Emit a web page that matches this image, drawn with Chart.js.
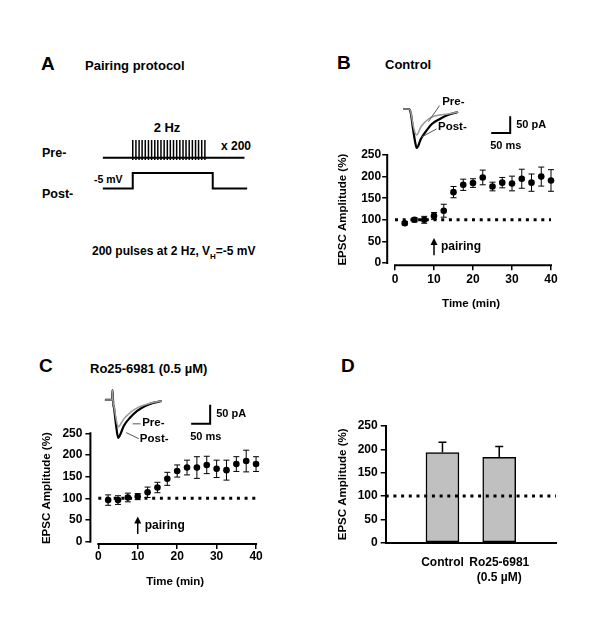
<!DOCTYPE html>
<html lang="en">
<head>
<meta charset="UTF-8">
<title>Pairing protocol - EPSC amplitude</title>
<script src="https://cdn.jsdelivr.net/npm/chart.js"></script>
<style>
  body { margin: 0; background: #fff; }
  #fig { position: relative; width: 600px; height: 628px; background: #fff; overflow: hidden; }
  #fig canvas { position: absolute; }
  .lbl { position: absolute; font-family: "Liberation Sans", Arial, sans-serif; font-weight: bold; color: #000;
         white-space: nowrap; line-height: 1; transform: translateY(-50%); }
  .mid { transform: translate(-50%, -50%); }
</style>
</head>
<body>
<div id="fig">
  <!-- panel headings -->
  <div class="lbl" style="left:41px;top:63px;font-size:19px">A</div>
  <div class="lbl" style="left:85px;top:65px;font-size:13px">Pairing protocol</div>
  <div class="lbl" style="left:337px;top:62px;font-size:19px">B</div>
  <div class="lbl" style="left:385px;top:64px;font-size:13px">Control</div>
  <div class="lbl" style="left:39px;top:365px;font-size:19px">C</div>
  <div class="lbl" style="left:90px;top:368px;font-size:13px">Ro25-6981 (0.5 µM)</div>
  <div class="lbl" style="left:341px;top:365px;font-size:19px">D</div>

  <!-- protocol labels -->
  <div class="lbl mid" style="left:167px;top:127px;font-size:13px">2 Hz</div>
  <div class="lbl" style="left:221px;top:146px;font-size:12px">x 200</div>
  <div class="lbl" style="left:42px;top:153px;font-size:12.5px">Pre-</div>
  <div class="lbl" style="left:42px;top:194px;font-size:12.5px">Post-</div>
  <div class="lbl" style="left:94px;top:179px;font-size:10.5px">-5 mV</div>
  <div class="lbl" style="left:92px;top:253px;font-size:12px">200 pulses at 2 Hz, V<sub style="font-size:8px">H</sub>=-5 mV</div>

  <canvas id="protocol" width="190" height="100" style="left:80px;top:110px"></canvas>
  <canvas id="traceB" width="165" height="63" style="left:395px;top:92px"></canvas>
  <canvas id="courseB" width="260" height="180" style="left:320px;top:140px"></canvas>
  <canvas id="traceC" width="160" height="62" style="left:95px;top:382px"></canvas>
  <canvas id="courseC" width="260" height="180" style="left:30px;top:420px"></canvas>
  <canvas id="summaryD" width="250" height="190" style="left:330px;top:410px"></canvas>
</div>

<script>
// ---- data ----
const timeMin = [2.5, 5, 7.5, 10, 12.5, 15, 17.5, 20, 22.5, 25, 27.5, 30, 32.5, 35, 37.5, 40];
const timeTicks = [0, 10, 20, 30, 40];
const ampTicks = [0, 50, 100, 150, 200, 250];
const baselineLevel = 100;
const baselineSpan = [0, 40];

// B: control
const controlAmp = [92, 100, 100, 109, 121, 164, 181, 185, 198, 177, 186, 184, 195, 186, 200, 191];
const controlErr = [4, 5, 8, 8, 15, 13, 13, 10, 17, 10, 12, 17, 22, 20, 22, 25];

// C: Ro25-6981
const roAmp = [96, 96, 102, 104, 114, 125, 145, 163, 171, 171, 177, 168, 165, 179, 186, 179];
const roErr = [12, 10, 10, 7, 12, 12, 15, 14, 17, 25, 20, 20, 23, 17, 25, 17];

// pairing marker (min, amplitude units)
const pairingAt = 10;
const arrowFrom = 18;
const arrowTo = 58;

// D: summary
const barCategories = ['Control', ['Ro25-6981', '(0.5 µM)']];
const barMeans = [193, 183];
const barErrs = [22, 23];

// inset traces (ms, pA)
const traceMsB = [21, 37, 42, 47, 53, 57, 61, 68, 82, 97, 118, 139, 166];
const preB = [0, 0, -12, -45, -72, -78, -72, -54, -36, -24, -18, -15, -9];
const postB = [0, 0, -15, -57, -99, -117, -111, -90, -66, -45, -30, -18, -9];
const traceMsC = [26, 45, 46, 48, 50, 55, 61, 66, 76, 92, 111, 132, 153, 176];
const preC = [0, 0, 26, -11, -18, -47, -71, -66, -50, -34, -21, -13, -7, -3];
const postC = [0, 0, 26, -11, -21, -63, -100, -92, -68, -47, -29, -16, -8, -3];
const scaleBarMs = [253, 303, 303];
const scaleBarB = [-72, -72, -22];
const scaleBarC = [-63, -63, -13];

// A: protocol schematic (arbitrary units)
const preLineT = [6.8, 91.6];
const preLineV = [53, 53];
const pulseTimes = [24.7, 26.6, 28.5, 30.3, 32.2, 34.1, 36.0, 37.9, 39.7, 41.6, 43.5, 45.4,
                    47.2, 49.1, 51.0, 52.9, 54.8, 56.6, 58.5, 60.4, 62.3, 64.1, 66.0, 67.9];
const pulseMid = 63;
const postStepT = [6.8, 24.7, 24.7, 72.6, 72.6, 93.2];
const postStepV = [13, 13, 33, 33, 13, 13];

// ---- setup ----
const FONT = '"Liberation Sans", Arial, sans-serif';
Chart.defaults.font.family = FONT;
Chart.defaults.font.weight = 'bold';
Chart.defaults.font.size = 12;
Chart.defaults.color = '#000';
Chart.defaults.animation = false;
Chart.defaults.events = [];
Chart.defaults.plugins.legend.display = false;
Chart.defaults.plugins.tooltip.enabled = false;

const pts = (xs, ys) => xs.map((x, i) => ({ x: x, y: ys[i] }));

// error bars, drawn under the markers
const errorBars = {
  id: 'errorBars',
  beforeDatasetsDraw(chart) {
    const ctx = chart.ctx, ys = chart.scales.y;
    chart.data.datasets.forEach((ds, i) => {
      if (!ds.errors) return;
      const meta = chart.getDatasetMeta(i);
      ctx.save();
      ctx.strokeStyle = '#000';
      ctx.lineWidth = ds.errWidth || 1;
      meta.data.forEach((el, j) => {
        const e = ds.errors[j], d = ds.data[j];
        if (e == null || d == null) return;
        const v = typeof d === 'object' ? d.y : d;
        const top = ys.getPixelForValue(v + e);
        const bot = ys.getPixelForValue(ds.upOnly ? v : v - e);
        const c = ds.capHalf || 3;
        ctx.beginPath();
        ctx.moveTo(el.x, bot); ctx.lineTo(el.x, top);
        ctx.moveTo(el.x - c, top); ctx.lineTo(el.x + c, top);
        if (!ds.upOnly) { ctx.moveTo(el.x - c, bot); ctx.lineTo(el.x + c, bot); }
        ctx.stroke();
      });
      ctx.restore();
    });
  }
};

// detached axes: each line only spans its own tick range
const offsetAxes = {
  id: 'offsetAxes',
  beforeDatasetsDraw(chart) {
    const { ctx, chartArea: a, scales: { x, y } } = chart;
    ctx.save();
    ctx.strokeStyle = '#000';
    ctx.lineWidth = 2;
    ctx.beginPath();
    ctx.moveTo(a.left, y.getPixelForValue(ampTicks[0]) + 1);
    ctx.lineTo(a.left, y.getPixelForValue(ampTicks[ampTicks.length - 1]) - 1);
    ctx.moveTo(x.getPixelForValue(timeTicks[0]) - 1, a.bottom);
    ctx.lineTo(x.getPixelForValue(timeTicks[timeTicks.length - 1]) + 1, a.bottom);
    ctx.stroke();
    ctx.restore();
  }
};

// pairing arrow + label
const pairingMark = {
  id: 'pairingMark',
  afterDatasetsDraw(chart) {
    const { ctx, scales: { x, y } } = chart;
    const px = x.getPixelForValue(pairingAt);
    const top = y.getPixelForValue(arrowTo), bot = y.getPixelForValue(arrowFrom);
    ctx.save();
    ctx.strokeStyle = '#000'; ctx.fillStyle = '#000'; ctx.lineWidth = 1.5;
    ctx.beginPath(); ctx.moveTo(px, bot); ctx.lineTo(px, top + 5); ctx.stroke();
    ctx.beginPath(); ctx.moveTo(px, top); ctx.lineTo(px - 3.5, top + 7); ctx.lineTo(px + 3.5, top + 7); ctx.closePath(); ctx.fill();
    ctx.font = 'bold 12px ' + FONT;
    ctx.textBaseline = 'middle';
    ctx.fillText('pairing', px + 7, y.getPixelForValue((arrowFrom + arrowTo) / 2));
    ctx.restore();
  }
};

// inset labels: Pre-/Post- with leaders, scale bar captions
const traceLabels = {
  id: 'traceLabels',
  afterDatasetsDraw(chart, args, opts) {
    const { ctx, scales: { x, y } } = chart;
    ctx.save();
    ctx.font = 'bold 11.5px ' + FONT;
    ctx.textBaseline = 'middle';
    ctx.fillStyle = '#000';
    ctx.strokeStyle = '#555';
    ctx.lineWidth = 1;
    (opts.items || []).forEach(it => {
      ctx.beginPath();
      ctx.moveTo(x.getPixelForValue(it.from[0]), y.getPixelForValue(it.from[1]));
      ctx.lineTo(x.getPixelForValue(it.to[0]), y.getPixelForValue(it.to[1]));
      ctx.stroke();
      ctx.fillText(it.text, x.getPixelForValue(it.x), y.getPixelForValue(it.y));
    });
    const bar = chart.data.datasets[2].data;
    ctx.font = 'bold 11px ' + FONT;
    ctx.fillText('50 pA', x.getPixelForValue(bar[2].x) + 6, y.getPixelForValue((bar[1].y + bar[2].y) / 2));
    ctx.fillText('50 ms', x.getPixelForValue(bar[0].x) - 1, y.getPixelForValue(bar[0].y) + 13);
    ctx.restore();
  }
};

const hidden = { display: false };

// ---- A: protocol ----
new Chart(document.getElementById('protocol'), {
  type: 'scatter',
  data: {
    datasets: [
      { data: pts(preLineT, preLineV), showLine: true, borderColor: '#000', borderWidth: 2, pointRadius: 0 },
      { data: pulseTimes.map(t => ({ x: t, y: pulseMid })), pointStyle: 'line', pointRotation: 90,
        pointRadius: 10, pointBorderWidth: 1.5, pointBorderColor: '#000' },
      { data: pts(postStepT, postStepV), showLine: true, borderColor: '#000', borderWidth: 2, pointRadius: 0 }
    ]
  },
  options: {
    responsive: false,
    layout: { padding: 0 },
    scales: {
      x: { type: 'linear', min: 0, max: 100, ...hidden },
      y: { type: 'linear', min: 0, max: 100, ...hidden }
    }
  }
});

// ---- insets ----
function inset(id, ms, pre, post, bar, yMin, yMax, xMax, items) {
  return new Chart(document.getElementById(id), {
    type: 'scatter',
    data: {
      datasets: [
        { data: pts(ms, pre), showLine: true, borderColor: '#9a9a9a', borderWidth: 1.5, pointRadius: 0,
          cubicInterpolationMode: 'monotone', order: 0 },
        { data: pts(ms, post), showLine: true, borderColor: '#000', borderWidth: 2.2, pointRadius: 0,
          cubicInterpolationMode: 'monotone', order: 1 },
        { data: pts(scaleBarMs, bar), showLine: true, borderColor: '#000', borderWidth: 2, pointRadius: 0, order: 2 }
      ]
    },
    options: {
      responsive: false,
      layout: { padding: 0 },
      plugins: { traceLabels: { items: items } },
      scales: {
        x: { type: 'linear', min: 0, max: xMax, ...hidden },
        y: { type: 'linear', min: yMin, max: yMax, ...hidden }
      }
    },
    plugins: [traceLabels]
  });
}

inset('traceB', traceMsB, preB, postB, scaleBarB, -138, 51, 434, [
  { text: 'Pre-', x: 124, y: 21, from: [117, 10], to: [88, -38] },
  { text: 'Post-', x: 113, y: -54, from: [109, -60], to: [70, -84] }
]);
inset('traceC', traceMsC, preC, postC, scaleBarC, -116, 47, 421, [
  { text: 'Pre-', x: 124, y: -61, from: [120, -63], to: [99, -63] },
  { text: 'Post-', x: 118, y: -103, from: [115, -102], to: [82, -86] }
]);

// ---- B and C: time courses ----
function timeCourse(id, amp, err, g) {
  return new Chart(document.getElementById(id), {
    type: 'scatter',
    data: {
      datasets: [
        { data: pts(timeMin, amp), errors: err, capHalf: 3, backgroundColor: '#000', borderColor: '#000',
          pointRadius: 3.3, pointBorderWidth: 0 },
        { data: baselineSpan.map(t => ({ x: t, y: baselineLevel })), showLine: true, borderColor: '#000',
          borderWidth: 3, borderDash: [3, 4.7], pointRadius: 0 }
      ]
    },
    options: {
      responsive: false,
      layout: { padding: { top: g.padTop, right: g.padRight, left: 0, bottom: 0 } },
      scales: {
        x: {
          type: 'linear', min: -2, max: 41,
          afterBuildTicks: s => { s.ticks = timeTicks.map(v => ({ value: v })); },
          afterFit: s => { s.height = g.xh; },
          border: { display: false },
          grid: { drawOnChartArea: false, drawTicks: true, tickLength: 5, color: '#000', lineWidth: 1.5 },
          ticks: { padding: g.xtp, maxRotation: 0, autoSkip: false },
          title: { display: true, text: 'Time (min)', font: { size: 11.5, weight: 'bold' },
                   padding: { top: 0, bottom: g.xTitle } }
        },
        y: {
          type: 'linear', min: -5, max: 252,
          afterBuildTicks: s => { s.ticks = ampTicks.map(v => ({ value: v })); },
          afterFit: s => { s.width = g.yw; },
          border: { display: false },
          grid: { drawOnChartArea: false, drawTicks: true, tickLength: 5, color: '#000', lineWidth: 1.5 },
          ticks: { padding: g.ytp },
          title: { display: true, text: 'EPSC Amplitude (%)', font: { size: 11.5, weight: 'bold' },
                   padding: { top: g.yTitle, bottom: 0 } }
        }
      }
    },
    plugins: [errorBars, offsetAxes, pairingMark]
  });
}

timeCourse('courseB', controlAmp, controlErr,
  { padTop: 14.1, padRight: 25.1, xh: 54.8, yw: 67.2, xtp: 2, ytp: 1, xTitle: 9.1, yTitle: 16.1 });
timeCourse('courseC', roAmp, roErr,
  { padTop: 12.4, padRight: 30, xh: 56.1, yw: 60.4, xtp: 1, ytp: 3, xTitle: 11.1, yTitle: 10.1 });

// ---- D: summary bars ----
const dLabels = ['', ...barCategories, ''];
new Chart(document.getElementById('summaryD'), {
  type: 'bar',
  data: {
    labels: dLabels,
    datasets: [
      { type: 'bar', data: [null, ...barMeans, null], errors: [null, ...barErrs, null], upOnly: true, capHalf: 4,
        errWidth: 1.5, backgroundColor: '#c0c0c0', borderColor: '#000', borderWidth: 1.5, borderSkipped: false,
        barThickness: 33, order: 1 },
      { type: 'line', data: dLabels.map(() => baselineLevel), borderColor: '#000', borderWidth: 3,
        borderDash: [3, 4.7], pointRadius: 0, order: 0 }
    ]
  },
  options: {
    responsive: false,
    layout: { padding: { top: 16, right: 24, left: 0, bottom: 0 } },
    scales: {
      x: {
        type: 'category', offset: false,
        afterFit: s => { s.height = 57.3; },
        border: { display: true, color: '#000', width: 2 },
        grid: { display: false, drawTicks: false },
        ticks: { padding: 13, maxRotation: 0, autoSkip: false }
      },
      y: {
        min: 0, max: 250,
        afterBuildTicks: s => { s.ticks = ampTicks.map(v => ({ value: v })); },
        afterFit: s => { s.width = 55.7; },
        border: { display: true, color: '#000', width: 2 },
        grid: { drawOnChartArea: false, drawTicks: true, tickLength: 5, color: '#000', lineWidth: 1.5 },
        ticks: { padding: 3 },
        title: { display: true, text: 'EPSC Amplitude (%)', font: { size: 11.5, weight: 'bold' },
                 padding: { top: 6.1, bottom: 0 } }
      }
    }
  },
  plugins: [errorBars]
});
</script>
</body>
</html>
